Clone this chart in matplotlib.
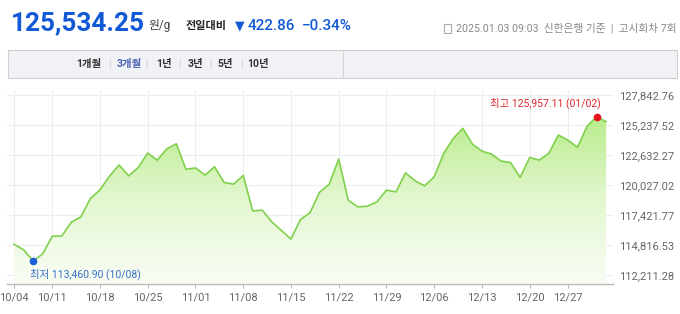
import numpy as np
import pandas as pd
import matplotlib
matplotlib.use('Agg')
import matplotlib.pyplot as plt
from matplotlib.colors import LinearSegmentedColormap
from matplotlib.patches import Rectangle, Polygon

plt.rcParams['font.family'] = ['Roboto', 'Noto Sans CJK KR', 'DejaVu Sans']

# trading days (Korean bank holidays removed)
holidays = ['2024-10-09', '2024-12-25', '2025-01-01']
days = pd.bdate_range('2024-10-04', '2025-01-03')
days = days[~days.isin(pd.to_datetime(holidays))]

# gold price, won per gram
prices = [114904, 114426, 113460.90, 114061, 115598, 115624, 116814, 117274, 118872, 119619,
          120809, 121781, 120835, 121547, 122806, 122198, 123171, 123614, 121400, 121521,
          120896, 121617, 120262, 120114, 120870, 117787, 117856, 116840, 116094, 115355,
          117049, 117639, 119420, 120097, 122285, 118725, 118143, 118204, 118577, 119593,
          119446, 121096, 120401, 119967, 120748, 122780, 124083, 124951, 123588, 122980,
          122719, 122112, 121981, 120696, 122433, 122198, 122780, 124369, 123935, 123301,
          125125, 125957.11, 125534.25]

tick_labels = ['10/04', '10/11', '10/18', '10/25', '11/01', '11/08', '11/15',
               '11/22', '11/29', '12/06', '12/13', '12/20', '12/27']
y_ticks = [112211.28, 114816.53, 117421.77, 120027.02, 122632.27, 125237.52, 127842.76]
tabs = ['1개월', '3개월', '1년', '3년', '5년', '10년']

W, H = 680, 314
def fx(px):
    return px / W
def fy(py):
    return 1 - py / H

fig = plt.figure(figsize=(6.8, 3.14), dpi=100)

# ---- header ----
blue = '#1259d6'
fig.text(fx(11), fy(23), '125,534.25', fontsize=18.8, fontweight='bold', color=blue, va='center')
fig.text(fx(148), fy(26), '원/g', fontsize=8.5, color='#444444', va='center')
fig.text(fx(186), fy(26), '전일대비', fontsize=8, fontweight='bold', color='#222222', va='center')
fig.text(fx(235), fy(26), '▼', fontsize=9, color=blue, va='center', family='DejaVu Sans')
fig.text(fx(248), fy(26), '422.86', fontsize=11, color=blue, va='center', fontweight='medium')
fig.text(fx(302), fy(26), '−0.34%', fontsize=11, color=blue, va='center', fontweight='medium')
fig.patches.append(Rectangle((fx(444), fy(33)), 7 / W, 9 / H, transform=fig.transFigure,
                             facecolor='none', edgecolor='#aaaaaa', lw=0.8))
fig.text(fx(677), fy(28), '2025.01.03 09:03  신한은행 기준  |  고시회차 7회', fontsize=7.7,
         color='#888888', va='center', ha='right')

# tab bar
fig.patches.append(Rectangle((fx(8), fy(78)), (677 - 8) / W, 28 / H, transform=fig.transFigure,
                             facecolor='#f1f2f6', edgecolor='#cfcfcf', lw=0.8))
fig.lines.append(plt.Line2D([fx(343), fx(343)], [fy(50), fy(78)], transform=fig.transFigure,
                            color='#d4d4d4', lw=0.8))
tab_x = [89, 129, 164, 195, 225, 258]
for i, (t, tx) in enumerate(zip(tabs, tab_x)):
    c = '#4a62b4' if t == '3개월' else '#333333'
    fig.text(fx(tx), fy(64), t, fontsize=7.5, fontweight='bold', color=c, ha='center', va='center')
    if i < len(tabs) - 1:
        sx = (tab_x[i] + tab_x[i + 1]) / 2
        fig.text(fx(sx), fy(64), '|', fontsize=7, color='#cccccc', ha='center', va='center')

# ---- chart ----
ax = fig.add_axes([fx(7), fy(284), (613 - 7) / W, (284 - 90) / H])
x = np.arange(len(prices))
step = 9.55
ax.set_xlim((7 - 14) / step, (613 - 14) / step)
ybot = 111457
ax.set_ylim(ybot, 128276)

# gradient fill under the line
cmap = LinearSegmentedColormap.from_list('g', ['#f9fdf5', '#e3f7d0', '#b9ec8c'])
grad = np.linspace(0, 1, 256).reshape(-1, 1)
im = ax.imshow(grad, cmap=cmap, aspect='auto', origin='lower',
               extent=[x[0], x[-1], ybot, max(prices)], zorder=1)
poly = Polygon(np.column_stack([np.r_[x, x[-1], x[0]], np.r_[prices, ybot, ybot]]),
               closed=True, facecolor='none', edgecolor='none')
ax.add_patch(poly)
im.set_clip_path(poly)

ax.plot(x, prices, color='#7fd14c', lw=1.2, zorder=3)

i_min = int(np.argmin(prices))
i_max = int(np.argmax(prices))
ax.plot(x[i_min], prices[i_min], 'o', color='#1a5fd6', ms=4.5, zorder=4)
ax.plot(x[i_max], prices[i_max], 'o', color='#e8101a', ms=4.5, zorder=4)
ax.annotate('최저 113,460.90 (10/08)', (x[i_min], prices[i_min]), xytext=(-2.2, -9.6),
            textcoords='offset points', ha='left', va='center', fontsize=7.5, color='#3a6fc8')
ax.annotate('최고 125,957.11 (01/02)', (x[i_max], prices[i_max]), xytext=(3.2, 9.8),
            textcoords='offset points', ha='right', va='center', fontsize=7.5, color='#e0262b')

# axes styling
date_str = [d.strftime('%m/%d') for d in days]
ax.set_xticks([date_str.index(t) for t in tick_labels])
ax.set_xticklabels(tick_labels)
ax.set_yticks(y_ticks)
ax.set_yticklabels([f'{v:,.2f}' for v in y_ticks])
ax.yaxis.tick_right()
ax.tick_params(axis='y', length=0, pad=4, labelsize=8, labelcolor='#666666')
ax.tick_params(axis='x', length=3, width=0.8, color='#bbbbbb', pad=3, labelsize=8,
               labelcolor='#666666')
ax.grid(True, color='#ededed', lw=0.8, zorder=0)
ax.set_axisbelow(True)
for s in ['top', 'left', 'right']:
    ax.spines[s].set_visible(False)
ax.spines['bottom'].set_color('#bbbbbb')
ax.spines['bottom'].set_linewidth(1)

fig.savefig('out.png', dpi=100)
